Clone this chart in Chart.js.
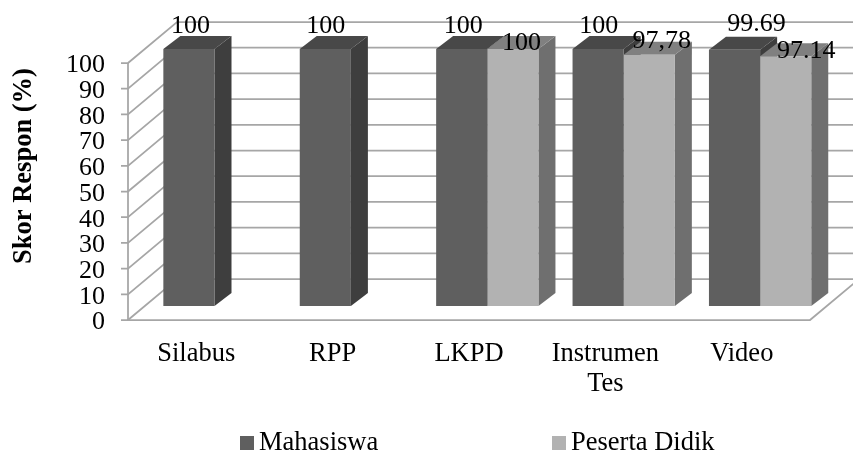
<!DOCTYPE html>
<html>
<head>
<meta charset="utf-8">
<style>
  html, body { margin: 0; padding: 0; background: #fff; }
  #wrap { position: relative; width: 853px; height: 454px; }
</style>
<script src="https://cdn.jsdelivr.net/npm/chart.js@4/dist/chart.umd.min.js"></script>
</head>
<body>
<div id="wrap"><canvas id="chart"></canvas></div>
<script>
/* data */
const categories = ["Silabus", "RPP", "LKPD", ["Instrumen", "Tes"], "Video"];
const seriesNames = ["Mahasiswa", "Peserta Didik"];
const mahasiswa = [100, 100, 100, 100, 99.69];
const pesertaDidik = [null, null, 100, 97.78, 97.14];
const mahasiswaLabels = ["100", "100", "100", "100", "99.69"];
const pesertaLabels = ["", "", "100", "97,78", "97.14"];
const yTicks = [0, 10, 20, 30, 40, 50, 60, 70, 80, 90, 100];

const FONT = "'Liberation Serif', 'Times New Roman', serif";
const GRID = "#a6a6a6";

/* 3D look: wall depth and how far the bars sit behind the front plane */
const wallDx = 49, wallDy = -41;
const barDx = 18.3, barDy = -14;
const sideDx = 17, sideDy = -13;

const colors = [
  { front: "#5f5f5f", side: "#3e3e3e", top: "#484848" },
  { front: "#b2b2b2", side: "#6f6f6f", top: "#808080" }
];

/* hand placed data labels, the original has them dragged around */
const labelNudge = [
  [[1.5, -16], [0.5, -16], [1.5, -16], [0.5, -16], [22, -19]],
  [null, null, [8.5, 1], [12.5, -6.7], [20.5, 1.6]]
];

const legendSwatchX = [240, 552];
const legendY = 443;

const walls = {
  id: "walls",
  beforeDatasetsDraw(chart) {
    const { ctx, chartArea: a, scales: { y } } = chart;
    ctx.save();
    ctx.strokeStyle = GRID;
    ctx.lineWidth = 1.75;
    yTicks.forEach((t) => {
      const py = y.getPixelForValue(t);
      ctx.beginPath();
      ctx.moveTo(a.left - 7, py);
      ctx.lineTo(a.left, py);
      ctx.lineTo(a.left + wallDx, py + wallDy);
      ctx.lineTo(chart.width + 10, py + wallDy);
      ctx.stroke();
    });
    // floor front edge and the vertical axis
    const y0 = y.getPixelForValue(0);
    ctx.beginPath();
    ctx.moveTo(a.left, y.getPixelForValue(100));
    ctx.lineTo(a.left, y0);
    ctx.lineTo(a.right, y0);
    ctx.lineTo(a.right + wallDx, y0 + wallDy);
    ctx.stroke();
    ctx.restore();

    // bars live on a plane behind the axis
    ctx.save();
    ctx.translate(barDx, barDy);
    // sides and tops go first so the library's fronts land on top of them
    chart.data.datasets.forEach((ds, i) => {
      chart.getDatasetMeta(i).data.forEach((bar, j) => {
        if (ds.data[j] == null) return;
        const half = bar.width / 2;
        const l = bar.x - half, r = bar.x + half, t = bar.y, b = bar.base;
        ctx.fillStyle = colors[i].side;
        ctx.beginPath();
        ctx.moveTo(r, t);
        ctx.lineTo(r + sideDx, t + sideDy);
        ctx.lineTo(r + sideDx, b + sideDy);
        ctx.lineTo(r, b);
        ctx.closePath();
        ctx.fill();
        ctx.fillStyle = colors[i].top;
        ctx.beginPath();
        ctx.moveTo(l, t);
        ctx.lineTo(l + sideDx, t + sideDy);
        ctx.lineTo(r + sideDx, t + sideDy);
        ctx.lineTo(r, t);
        ctx.closePath();
        ctx.fill();
      });
    });
  },
  afterDatasetsDraw(chart) {
    const { ctx } = chart;
    ctx.restore();
    ctx.save();
    ctx.fillStyle = "#000";
    ctx.textBaseline = "alphabetic";

    // value labels
    ctx.font = "26px " + FONT;
    ctx.textAlign = "center";
    [mahasiswaLabels, pesertaLabels].forEach((labels, i) => {
      chart.getDatasetMeta(i).data.forEach((bar, j) => {
        if (!labels[j]) return;
        const [nx, ny] = labelNudge[i][j];
        ctx.fillText(labels[j], bar.x + barDx + nx, bar.y + barDy + ny);
      });
    });

    // legend
    ctx.font = "26.5px " + FONT;
    ctx.textAlign = "left";
    seriesNames.forEach((name, i) => {
      ctx.fillStyle = colors[i].front;
      ctx.fillRect(legendSwatchX[i], legendY - 7, 14, 14);
      ctx.fillStyle = "#000";
      ctx.fillText(name, legendSwatchX[i] + 19, legendY + 7);
    });

    // axis title
    ctx.save();
    ctx.translate(24, 166);
    ctx.rotate(-Math.PI / 2);
    ctx.font = "bold 26.5px " + FONT;
    ctx.textAlign = "center";
    ctx.textBaseline = "middle";
    ctx.fillText("Skor Respon (%)", 0, 0);
    ctx.restore();
    ctx.restore();
  }
};

new Chart(document.getElementById("chart").getContext("2d"), {
  type: "bar",
  data: {
    labels: categories,
    datasets: [
      { label: seriesNames[0], data: mahasiswa, backgroundColor: colors[0].front },
      { label: seriesNames[1], data: pesertaDidik, backgroundColor: colors[1].front }
    ]
  },
  options: {
    responsive: true,
    maintainAspectRatio: false,
    animation: false,
    events: [],
    barPercentage: 1,
    categoryPercentage: 0.75,
    layout: { padding: { left: 0, right: 43, top: 63, bottom: 0 } },
    plugins: {
      tooltip: { enabled: false },
      legend: { display: false }
    },
    scales: {
      x: {
        afterFit(scale) { scale.height = 134; },
        grid: { display: false },
        border: { display: false },
        ticks: {
          color: "#000",
          font: { family: FONT, size: 26.5, lineHeight: 1.14 },
          maxRotation: 0,
          autoSkip: false,
          padding: 11
        }
      },
      y: {
        afterFit(scale) { scale.width = 128; },
        min: 0,
        max: 100,
        grid: { display: false },
        border: { display: false },
        ticks: {
          stepSize: 10,
          autoSkip: false,
          color: "#000",
          font: { family: FONT, size: 26 },
          padding: 15,
          labelOffset: 2.5
        }
      }
    }
  },
  plugins: [walls]
});
</script>
</body>
</html>
